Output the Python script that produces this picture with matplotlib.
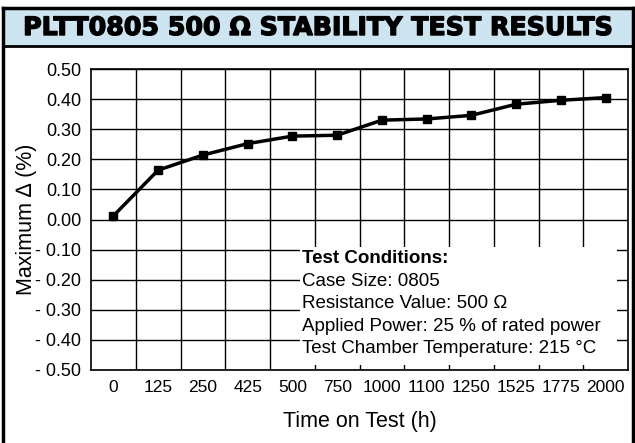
"""PLTT0805 500 ohm stability test results chart."""

import matplotlib
matplotlib.use("Agg")
import matplotlib.pyplot as plt
import matplotlib.patheffects as pe
from matplotlib.patches import Rectangle

plt.rcParams["font.family"] = ["Liberation Sans", "DejaVu Sans"]

# data
hours = ["0", "125", "250", "425", "500", "750", "1000", "1100",
         "1250", "1525", "1775", "2000"]
max_delta = [0.012, 0.164, 0.214, 0.252, 0.277, 0.280, 0.330, 0.334,
             0.346, 0.383, 0.396, 0.405]
y_ticks = [0.5, 0.4, 0.3, 0.2, 0.1, 0.0, -0.1, -0.2, -0.3, -0.4, -0.5]
y_tick_labels = ["0.50", "0.40", "0.30", "0.20", "0.10", "0.00",
                 "- 0.10", "- 0.20", "- 0.30", "- 0.40", "- 0.50"]
title = "PLTT0805 500 \u03a9 STABILITY TEST RESULTS"
conditions_head = "Test Conditions:"
conditions = ["Case Size: 0805",
              "Resistance Value: 500 \u03a9",
              "Applied Power: 25 % of rated power",
              "Test Chamber Temperature: 215 \u00b0C"]

W, H = 635, 443
fig = plt.figure(figsize=(W / 100, H / 100), dpi=100)


def fx(px):
    return px / W


def fy(py):
    return 1 - py / H


# title band + outer frame (figure pixel coords)
fig.patches.append(Rectangle((fx(3), fy(46)), fx(630), 38 / H,
                             transform=fig.transFigure, facecolor="#cde4f1",
                             edgecolor="none", zorder=0))
fig.add_artist(plt.Line2D([fx(3), fx(633)], [fy(46), fy(46)], color="black", lw=2))
fig.add_artist(plt.Line2D([fx(3), fx(633)], [fy(8), fy(8)], color="black", lw=2.5))
fig.add_artist(plt.Line2D([fx(3), fx(3)], [fy(8), 0], color="black", lw=2.5))
fig.add_artist(plt.Line2D([fx(633), fx(633)], [fy(8), 0], color="black", lw=2.5))
fig.text(fx(318), fy(28), title, ha="center", va="center", family="DejaVu Sans",
         fontsize=18.2, fontweight="bold", color="black",
         path_effects=[pe.withStroke(linewidth=1.0, foreground="black")])

ax = fig.add_axes([fx(91), fy(370), 537 / W, 301 / H])
x = [i + 0.5 for i in range(len(hours))]

for yv in y_ticks:
    ax.axhline(yv, color="black", lw=1, zorder=1)
for k in range(1, len(hours)):
    ax.axvline(k, color="black", lw=1, zorder=1)

# white box holding the test conditions
ax.add_patch(Rectangle((4.68, -0.483), 7.08, 0.393, facecolor="white",
                       edgecolor="none", zorder=2))
ax.text(4.72, -0.128, conditions_head, fontsize=13.5, fontweight="bold",
        va="center", ha="left", zorder=3)
for i, line in enumerate(conditions):
    ax.text(4.72, -0.207 - 0.0735 * i, line, fontsize=13.5, va="center",
            ha="left", zorder=3)

ax.plot(x, max_delta, color="black", lw=2.5, marker="s", markersize=6, zorder=4)

ax.set_xlim(0, len(hours))
ax.set_ylim(-0.5, 0.5)
ax.set_xticks(x)
ax.set_xticklabels(hours, fontsize=12.5)
ax.set_yticks(y_ticks)
ax.set_yticklabels(y_tick_labels, fontsize=13)
ax.tick_params(axis="y", length=0, pad=7)
ax.tick_params(axis="x", length=0, pad=7)
for s in ax.spines.values():
    s.set_linewidth(1.2)

ax.set_xlabel("Time on Test (h)", fontsize=15.5, labelpad=12)
ax.set_ylabel("Maximum \u2206 (%)", fontsize=15.5, labelpad=-1)

fig.savefig("out.png", dpi=100)
